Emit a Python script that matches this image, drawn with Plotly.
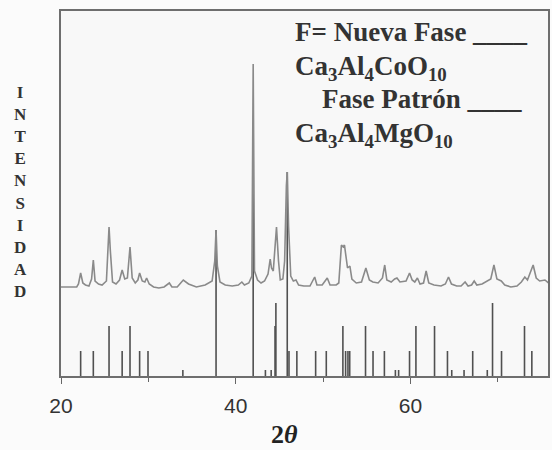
import plotly.graph_objects as go

# ---- Data ----
# Measured XRD pattern of the new phase (2theta, relative intensity, offset baseline)
pattern_2theta = [20.0, 21.8, 22.0, 22.25, 22.5, 22.8, 23.2, 23.5, 23.7, 23.9, 24.3, 24.7,
                  25.2, 25.4, 25.5, 25.65, 25.9, 26.3, 26.7, 27.0, 27.3, 27.6, 27.9, 28.15,
                  28.5, 28.8, 29.0, 29.3, 29.6, 29.8, 30.1, 30.6, 31.2, 31.8, 32.4, 32.7,
                  33.3, 34.0, 34.6, 35.5, 36.5, 37.3, 37.6, 37.75, 37.9, 38.2, 38.8, 39.6,
                  40.3, 40.7, 41.0, 41.5, 41.85, 42.0, 42.15, 42.5, 42.9, 43.3, 43.7, 43.95,
                  44.1, 44.3, 44.45, 44.67, 44.9, 45.1, 45.4, 45.6, 45.8, 45.9, 46.05, 46.3,
                  46.6, 46.9, 47.2, 47.8, 48.5, 49.04, 49.3, 49.9, 50.48, 50.8, 51.5, 51.8,
                  52.1, 52.3, 52.45, 52.6, 52.8, 53.07, 53.3, 53.8, 54.4, 54.9, 55.3, 55.7,
                  56.3, 56.8, 57.06, 57.3, 57.8, 58.2, 58.46, 58.8, 59.5, 59.9, 60.2, 60.5,
                  60.8, 61.1, 61.5, 61.8, 62.1, 62.7, 63.5, 64.0, 64.36, 64.7, 65.3, 65.8,
                  66.26, 66.6, 67.0, 67.3, 67.6, 68.2, 68.9, 69.2, 69.56, 69.9, 70.4, 70.8,
                  71.5, 72.2, 72.7, 73.1, 73.4, 74.05, 74.4, 74.8, 75.4, 75.8]
pattern_intensity = [89, 89, 92, 103, 93, 91, 90, 97, 116, 95, 92, 91,
                     95, 130, 149, 125, 94, 92, 96, 106, 97, 98, 129, 98,
                     93, 96, 103, 95, 94, 98, 92, 89, 88, 89, 93, 89,
                     89, 96, 92, 89, 91, 95, 115, 146, 110, 94, 91, 90,
                     91, 94, 91, 93, 100, 312, 105, 96, 93, 95, 102, 117,
                     108, 105, 120, 149, 115, 96, 97, 115, 190, 204, 150, 100,
                     95, 96, 91, 90, 90, 99, 91, 91, 98, 91, 91, 93,
                     131, 129, 131, 120, 108, 110, 97, 93, 94, 108, 96, 94,
                     93, 98, 111, 96, 94, 97, 98, 94, 95, 103, 96, 94,
                     98, 92, 93, 105, 93, 91, 90, 92, 99, 92, 90, 90,
                     94, 90, 91, 95, 91, 92, 96, 97, 111, 97, 95, 91,
                     89, 90, 94, 99, 96, 111, 98, 95, 96, 93]

# Reference (standard) phase stick pattern
ref_2theta = [22.25, 23.7, 25.5, 27.0, 27.9, 29.0, 29.96, 33.95, 37.75, 42.0,
              43.4, 44.06, 44.5, 44.6, 45.9, 46.1, 47.0, 49.15, 50.37, 52.27,
              52.58, 52.85, 53.05, 54.86, 55.72, 57.02, 58.28, 58.65, 59.9, 60.63,
              62.76, 64.24, 64.73, 66.14, 67.13, 68.8, 69.4, 70.43, 73.06, 73.9]
ref_intensity = [25, 25, 50, 25, 50, 25, 25, 6, 146, 240,
                 6, 6, 50, 73, 204, 25, 25, 25, 25, 50,
                 25, 25, 25, 50, 25, 25, 6, 6, 25, 50,
                 50, 25, 6, 6, 25, 6, 73, 25, 50, 25]

x_ticks = [20, 40, 60]
x_minor = [30, 50, 70]

# ---- Build stick segments from data ----
stick_x, stick_y = [], []
for t, h in zip(ref_2theta, ref_intensity):
    stick_x += [t, t, None]
    stick_y += [0, h, None]

fig = go.Figure()
fig.add_trace(go.Scatter(x=stick_x, y=stick_y, mode="lines",
                         line=dict(color="#505050", width=1.6),
                         hoverinfo="skip", showlegend=False))
fig.add_trace(go.Scatter(x=pattern_2theta, y=pattern_intensity, mode="lines",
                         line=dict(color="#8a8a8a", width=1.6),
                         showlegend=False))

serif = "Liberation Serif, Times New Roman, serif"
txt = "#333333"

annotations = [
    dict(text="<b>F= Nueva Fase ____</b>", x=0.476, y=0.942, xref="paper", yref="paper",
         xanchor="left", yanchor="middle", showarrow=False,
         font=dict(family=serif, size=27, color=txt)),
    dict(text="<b>Ca<sub>3</sub>Al<sub>4</sub>CoO<sub>10</sub></b>", x=0.476, y=0.844,
         xref="paper", yref="paper", xanchor="left", yanchor="middle", showarrow=False,
         font=dict(family=serif, size=27, color=txt)),
    dict(text="<b>Fase Patrón ____</b>", x=0.532, y=0.759, xref="paper", yref="paper",
         xanchor="left", yanchor="middle", showarrow=False,
         font=dict(family=serif, size=27, color=txt)),
    dict(text="<b>Ca<sub>3</sub>Al<sub>4</sub>MgO<sub>10</sub></b>", x=0.476, y=0.661,
         xref="paper", yref="paper", xanchor="left", yanchor="middle", showarrow=False,
         font=dict(family=serif, size=27, color=txt)),
    dict(text="<b>" + "<br>".join("INTENSIDAD") + "</b>", x=-0.084, y=0.505,
         xref="paper", yref="paper", xanchor="center", yanchor="middle", showarrow=False,
         font=dict(family=serif, size=17, color=txt)),
    dict(text="<b>2<i>θ</i></b>", x=0.458, y=-0.161, xref="paper", yref="paper",
         xanchor="center", yanchor="middle", showarrow=False,
         font=dict(family=serif, size=26, color="#222222")),
]

fig.update_layout(
    width=552, height=450,
    margin=dict(l=61, r=2, t=11, b=74),
    paper_bgcolor="#fbfbfb", plot_bgcolor="#f8f8f8",
    annotations=annotations,
    xaxis=dict(range=[20, 75.75], tickvals=x_ticks, ticks="outside", ticklen=6,
               tickcolor="#666", tickwidth=1.2,
               minor=dict(tickvals=x_minor, ticks="outside", ticklen=4, tickcolor="#666"),
               showgrid=False, zeroline=False, showline=True, linecolor="#6e6e6e",
               linewidth=1.5, mirror=True, ticklabelstandoff=4,
               tickfont=dict(family="Liberation Sans, Arial, sans-serif", size=21, color="#333")),
    yaxis=dict(range=[0, 365], showticklabels=False, ticks="", showgrid=False,
               zeroline=False, showline=True, linecolor="#6e6e6e", linewidth=1.5, mirror=True),
)

fig.write_html("out.html", config={"displayModeBar": False},
               post_script="document.body.style.margin='0';document.body.style.background='#fbfbfb';")
